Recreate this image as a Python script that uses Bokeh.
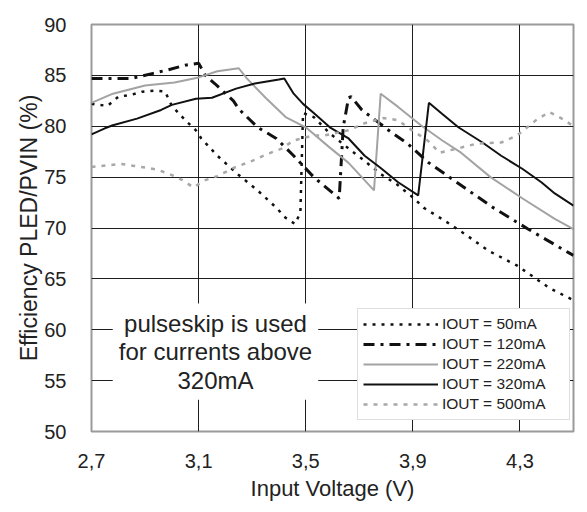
from bokeh.plotting import figure
from bokeh.models import (FixedTicker, CustomJSTickFormatter, Legend, LegendItem,
                          Label, Range1d, Title)
from bokeh.embed import file_html
from bokeh.resources import INLINE

# ---- data ----
v50 = [2.70, 2.76, 2.80, 2.85, 2.89, 2.94, 2.975, 3.00, 3.05, 3.09, 3.11, 3.17, 3.25, 3.32,
       3.39, 3.425, 3.46, 3.48, 3.49, 3.53, 3.59, 3.67, 3.71, 3.78, 3.84, 3.905, 3.94, 4.02,
       4.10, 4.18, 4.29, 4.41, 4.50]
e50 = [82.2, 82.0, 82.9, 83.1, 83.4, 83.5, 83.4, 82.0, 80.6, 79.6, 78.8, 77.1, 75.2, 73.7,
       72.0, 71.0, 70.4, 71.5, 81.3, 80.9, 79.3, 77.6, 76.8, 75.3, 74.3, 72.9, 72.0, 70.7,
       69.3, 67.8, 66.3, 64.1, 62.9]

v120 = [2.70, 2.85, 2.93, 2.98, 3.05, 3.10, 3.125, 3.16, 3.23, 3.25, 3.32, 3.39, 3.455, 3.53,
        3.58, 3.625, 3.64, 3.66, 3.67, 3.71, 3.82, 3.88, 3.96, 4.08, 4.20, 4.33, 4.48, 4.50]
e120 = [84.7, 84.7, 85.2, 85.5, 86.0, 86.2, 85.0, 84.2, 82.5, 81.7, 79.9, 78.8, 77.1, 75.0,
        73.9, 72.9, 79.9, 82.8, 82.9, 81.6, 79.4, 78.3, 76.4, 74.2, 72.0, 69.9, 67.6, 67.3]

v220 = [2.70, 2.78, 2.90, 3.01, 3.10, 3.17, 3.25, 3.28, 3.35, 3.425, 3.50, 3.59, 3.66, 3.755,
        3.78, 3.845, 3.93, 4.01, 4.08, 4.19, 4.31, 4.43, 4.50]
e220 = [82.3, 83.2, 84.0, 84.3, 84.8, 85.4, 85.7, 84.7, 82.8, 80.9, 79.9, 77.9, 76.4, 73.7,
        83.2, 81.9, 80.1, 78.6, 77.4, 75.0, 72.9, 70.9, 69.9]

v320 = [2.70, 2.75, 2.78, 2.87, 2.96, 3.00, 3.09, 3.15, 3.24, 3.31, 3.40, 3.42, 3.455, 3.49,
        3.53, 3.59, 3.66, 3.72, 3.78, 3.845, 3.92, 3.96, 4.01, 4.07, 4.16, 4.23, 4.31, 4.38,
        4.43, 4.50]
e320 = [79.2, 79.8, 80.1, 80.75, 81.6, 82.1, 82.7, 82.8, 83.7, 84.2, 84.6, 84.7, 83.2, 82.2,
        81.3, 79.9, 78.8, 77.1, 75.9, 74.5, 73.2, 82.3, 81.2, 79.9, 78.4, 77.1, 75.8, 74.5,
        73.4, 72.2]

v500 = [2.70, 2.81, 2.86, 2.91, 2.95, 3.00, 3.04, 3.08, 3.125, 3.17, 3.23, 3.30, 3.35, 3.41,
        3.455, 3.53, 3.57, 3.66, 3.72, 3.79, 3.845, 3.88, 3.955, 4.00, 4.08, 4.14, 4.23, 4.29,
        4.36, 4.41, 4.46, 4.50]
e500 = [76.0, 76.3, 76.1, 75.9, 75.7, 75.2, 74.7, 74.0, 74.7, 75.1, 75.9, 76.6, 77.2, 77.8,
        78.6, 79.1, 79.1, 79.6, 80.3, 80.8, 80.6, 79.9, 78.6, 77.4, 77.9, 78.3, 78.4, 79.1,
        80.6, 81.4, 80.7, 80.0]

series_labels = ["IOUT = 50mA", "IOUT = 120mA", "IOUT = 220mA", "IOUT = 320mA", "IOUT = 500mA"]
x_ticks = [2.7, 3.1, 3.5, 3.9, 4.3]
y_ticks = [50, 55, 60, 65, 70, 75, 80, 85, 90]
note_text = "pulseskip is used\nfor currents above\n320mA"
x_title = "Input Voltage (V)"
y_title = "Efficiency PLED/PVIN (%)"

FONT = "Liberation Sans"
TXT = "#222222"

p = figure(frame_width=482, frame_height=407, output_backend="svg", toolbar_location=None,
           x_range=Range1d(2.7, 4.5), y_range=Range1d(50, 90),
           min_border_left=91, min_border_right=6, min_border_top=24, min_border_bottom=40,
           background_fill_color="white", border_fill_color="white")

p.outline_line_color = "#9a9a9a"
p.outline_line_width = 2

for ax in (p.xaxis[0], p.yaxis[0]):
    ax.axis_line_color = None
    ax.major_tick_line_color = None
    ax.minor_tick_line_color = None
    ax.major_tick_out = 0
    ax.major_tick_in = 0
    ax.major_label_text_font = FONT
    ax.major_label_text_font_size = "20px"
    ax.major_label_text_color = TXT
    ax.axis_label_text_font = FONT
    ax.axis_label_text_font_style = "normal"
    ax.axis_label_text_color = TXT

p.xaxis.ticker = FixedTicker(ticks=x_ticks)
p.yaxis.ticker = FixedTicker(ticks=y_ticks)
p.xaxis.formatter = CustomJSTickFormatter(code="return tick.toFixed(1).replace('.', ',');")
p.xaxis.major_label_standoff = 22
p.yaxis.major_label_standoff = 25
p.xaxis.axis_label = x_title
p.xaxis.axis_label_text_font_size = "22px"
p.xaxis.axis_label_standoff = 5

ytitle = Title(text=y_title, align="center", offset=30, standoff=0,
               text_font=FONT, text_font_size="23px", text_font_style="normal",
               text_color=TXT, text_line_height=0.8)
p.add_layout(ytitle, "left")

p.xgrid.grid_line_color = "#1e1e1e"
p.ygrid.grid_line_color = "#1e1e1e"
p.xgrid.grid_line_width = 1
p.ygrid.grid_line_width = 1

r50 = p.line(v50, e50, line_color="#111111", line_width=2.5, line_dash="3 6")
r120 = p.line(v120, e120, line_color="#111111", line_width=3, line_dash="11 6 3 6")
r220 = p.line(v220, e220, line_color="#a3a3a3", line_width=2)
r320 = p.line(v320, e320, line_color="#111111", line_width=2)
r500 = p.line(v500, e500, line_color="#a8a8a8", line_width=2.5, line_dash="4 6")

legend = Legend(items=[LegendItem(label=l, renderers=[r]) for l, r in
                       zip(series_labels, [r50, r120, r220, r320, r500])],
                location=(266, 11), orientation="vertical",
                glyph_width=75, glyph_height=20, label_height=20, label_width=122,
                label_standoff=4, spacing=0, padding=5,
                label_text_font=FONT, label_text_font_size="15.5px", label_text_color=TXT,
                border_line_color="#bdbdbd", border_line_width=1,
                background_fill_color="white", background_fill_alpha=1.0)
p.add_layout(legend)

note = Label(x=3.163, y=57.85, text=note_text, text_align="center", text_baseline="middle",
             text_font=FONT, text_font_size="24px", text_color=TXT, text_line_height=1.06,
             background_fill_color="white", background_fill_alpha=1.0, padding=6)
p.add_layout(note)

open("out.html", "w").write(file_html(p, INLINE))
